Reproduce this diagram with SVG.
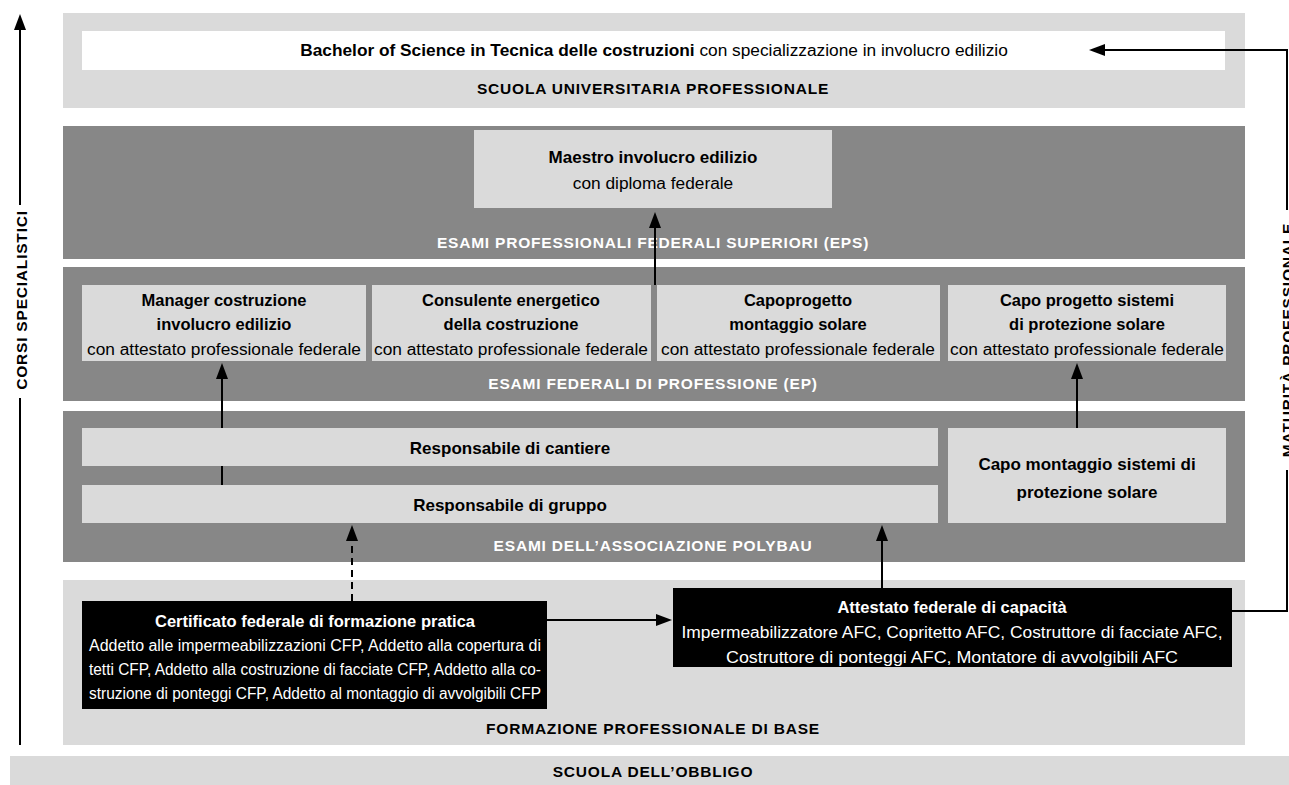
<svg xmlns="http://www.w3.org/2000/svg" width="1289" height="785" viewBox="0 0 1289 785">
<style>
text{font-family:"Liberation Sans",Arial,sans-serif;fill:#000}
.lt{fill:#dadada}
.dk{fill:#878787}
.bk{fill:#000}
.wh{fill:#fff}
.b{font-weight:bold}
.t{font-size:17px;text-anchor:middle;font-weight:bold}
.te{font-size:16.5px;text-anchor:middle;font-weight:bold}
.r{font-size:17.3px;text-anchor:middle}
.rb{font-size:16px;text-anchor:middle}
.band{font-size:15.5px;font-weight:bold;text-anchor:middle;letter-spacing:0.8px}
.wt{fill:#fff}
.ln{stroke:#000;stroke-width:2;fill:none}
</style>
<defs>
<marker id="ah" viewBox="0 0 16 12" markerWidth="16" markerHeight="12" refX="12" refY="6" orient="auto" markerUnits="userSpaceOnUse">
<path d="M0,0 L16,6 L0,12 z" fill="#000"/>
</marker>
</defs>

<g id="band-sup">
<rect class="lt" x="63" y="13" width="1182" height="95"/>
<text class="band" x="653" y="94">SCUOLA UNIVERSITARIA PROFESSIONALE</text>
</g>
<g id="node-bachelor">
<rect class="wh" x="82" y="31" width="1143" height="39"/>
<text class="r" x="654" y="56"><tspan class="b">Bachelor of Science in Tecnica delle costruzioni</tspan> con specializzazione in involucro edilizio</text>
</g>

<g id="band-eps">
<rect class="dk" x="63" y="126" width="1182" height="133"/>
<text class="band wt" x="653" y="248">ESAMI PROFESSIONALI FEDERALI SUPERIORI (EPS)</text>
</g>
<g id="node-maestro">
<rect class="lt" x="474" y="130" width="358" height="78"/>
<text class="t" x="653" y="163">Maestro involucro edilizio</text>
<text class="r" x="653" y="189">con diploma federale</text>
</g>

<g id="band-ep">
<rect class="dk" x="63" y="267" width="1182" height="134"/>
<text class="band wt" x="653" y="389">ESAMI FEDERALI DI PROFESSIONE  (EP)</text>
</g>
<g id="node-manager">
<rect class="lt" x="82" y="285" width="284" height="76"/>
<text class="te" x="224" y="306">Manager costruzione</text>
<text class="te" x="224" y="330">involucro edilizio</text>
<text class="r" x="224" y="355">con attestato professionale federale</text>
</g>
<g id="node-consulente">
<rect class="lt" x="372" y="285" width="279" height="76"/>
<text class="te" x="511" y="306">Consulente energetico</text>
<text class="te" x="511" y="330">della costruzione</text>
<text class="r" x="511" y="355">con attestato professionale federale</text>
</g>
<g id="node-capoprogetto">
<rect class="lt" x="657" y="285" width="283" height="76"/>
<text class="te" x="798" y="306">Capoprogetto</text>
<text class="te" x="798" y="330">montaggio solare</text>
<text class="r" x="798" y="355">con attestato professionale federale</text>
</g>
<g id="node-capoprogetto-sistemi">
<rect class="lt" x="948" y="285" width="278" height="76"/>
<text class="te" x="1087" y="306">Capo progetto sistemi</text>
<text class="te" x="1087" y="330">di protezione solare</text>
<text class="r" x="1087" y="355">con attestato professionale federale</text>
</g>

<g id="band-polybau">
<rect class="dk" x="63" y="411" width="1182" height="151"/>
<text class="band wt" x="653" y="551">ESAMI DELL’ASSOCIAZIONE POLYBAU</text>
</g>
<g id="node-cantiere">
<rect class="lt" x="82" y="428" width="856" height="38"/>
<text class="t" x="510" y="454">Responsabile di cantiere</text>
</g>
<g id="node-gruppo">
<rect class="lt" x="82" y="485" width="856" height="38"/>
<text class="t" x="510" y="511">Responsabile di gruppo</text>
</g>
<g id="node-capomontaggio">
<rect class="lt" x="948" y="428" width="278" height="95"/>
<text class="t" x="1087" y="470">Capo montaggio sistemi di</text>
<text class="t" x="1087" y="498">protezione solare</text>
</g>

<g id="band-base">
<rect class="lt" x="63" y="580" width="1182" height="165"/>
<text class="band" x="653" y="734">FORMAZIONE PROFESSIONALE DI BASE</text>
</g>
<g id="node-certificato">
<rect class="bk" x="82" y="601" width="465" height="108"/>
<text class="te wt" x="315" y="627">Certificato federale di formazione pratica</text>
<text class="rb wt" x="315" y="651" textLength="452" lengthAdjust="spacingAndGlyphs">Addetto alle impermeabilizzazioni CFP,  Addetto alla copertura di</text>
<text class="rb wt" x="315" y="675" textLength="452" lengthAdjust="spacingAndGlyphs">tetti CFP,  Addetto alla costruzione di facciate CFP, Addetto alla co-</text>
<text class="rb wt" x="315" y="699" textLength="452" lengthAdjust="spacingAndGlyphs">struzione di ponteggi CFP,  Addetto al montaggio di avvolgibili CFP</text>
</g>
<g id="node-attestato">
<rect class="bk" x="673" y="588" width="559" height="79"/>
<text class="te wt" x="952" y="613">Attestato federale di capacità</text>
<text class="rb wt" x="952" y="638" textLength="541" lengthAdjust="spacingAndGlyphs">Impermeabilizzatore AFC, Copritetto AFC, Costruttore di facciate AFC,</text>
<text class="rb wt" x="952" y="663" textLength="452" lengthAdjust="spacingAndGlyphs">Costruttore di ponteggi AFC, Montatore di avvolgibili AFC</text>
</g>

<g id="band-obbligo">
<rect class="lt" x="10" y="756" width="1279" height="29"/>
<text class="band" x="653" y="777">SCUOLA DELL’OBBLIGO</text>
</g>

<g id="side-labels">
<text class="band" transform="translate(27,300) rotate(-90)">CORSI SPECIALISTICI</text>
<text class="band" transform="translate(1293,340) rotate(-90)">MATURITÀ PROFESSIONALE</text>
</g>

<g id="connectors">
<path class="ln" d="M20,745 V398 M20,205 V18" marker-end="url(#ah)"/>
<path class="ln" d="M1232,611 H1287 V470 M1287,210 V50 H1093" marker-end="url(#ah)"/>
<path class="ln" d="M655,285 V216" marker-end="url(#ah)"/>
<path class="ln" d="M222,485 V466 M222,428 V367" marker-end="url(#ah)"/>
<path class="ln" d="M1077,428 V367" marker-end="url(#ah)"/>
<path class="ln" d="M352,601 V529" stroke-dasharray="7 5" marker-end="url(#ah)"/>
<path class="ln" d="M882,588 V529" marker-end="url(#ah)"/>
<path class="ln" d="M547,620 H668" marker-end="url(#ah)"/>
</g>
</svg>
